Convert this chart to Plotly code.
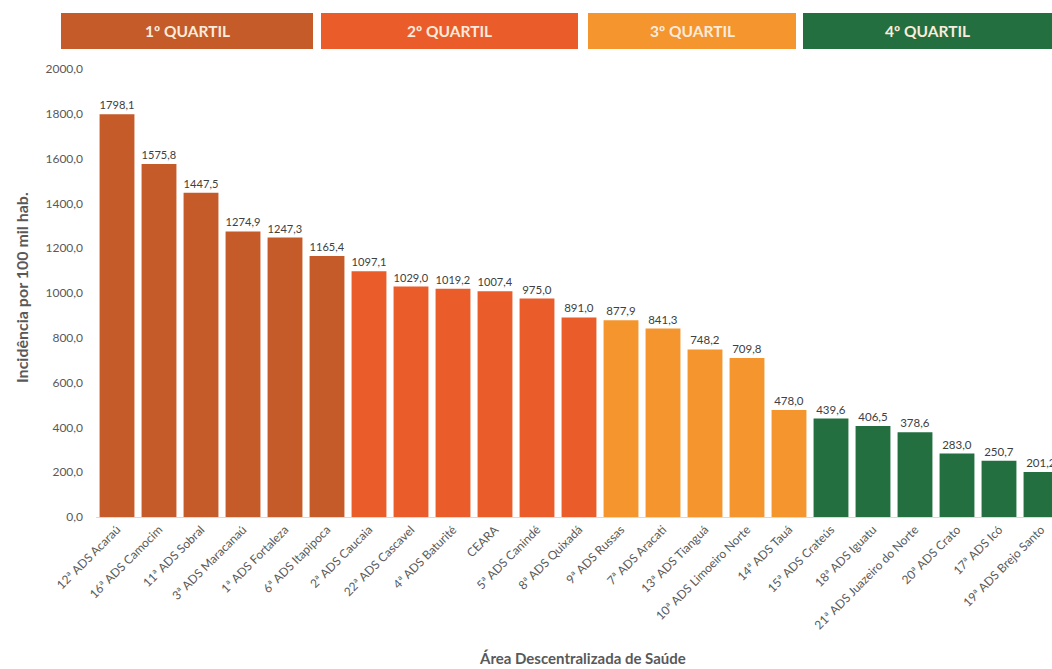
import plotly.graph_objects as go

categories = [
    "12ª ADS Acaraú", "16ª ADS Camocim", "11ª ADS Sobral", "3ª ADS Maracanaú",
    "1ª ADS Fortaleza", "6ª ADS Itapipoca", "2ª ADS Caucaia", "22ª ADS Cascavel",
    "4ª ADS Baturité", "CEARA", "5ª ADS Canindé", "8ª ADS Quixadá",
    "9ª ADS Russas", "7ª ADS Aracati", "13ª ADS Tianguá", "10ª ADS Limoeiro Norte",
    "14ª ADS Tauá", "15ª ADS Crateús", "18ª ADS Iguatu", "21ª ADS Juazeiro do Norte",
    "20ª ADS Crato", "17ª ADS Icó", "19ª ADS Brejo Santo",
]
values = [
    1798.1, 1575.8, 1447.5, 1274.9, 1247.3, 1165.4, 1097.1, 1029.0, 1019.2,
    1007.4, 975.0, 891.0, 877.9, 841.3, 748.2, 709.8, 478.0, 439.6, 406.5,
    378.6, 283.0, 250.7, 201.2,
]
quartile = [1, 1, 1, 1, 1, 1, 2, 2, 2, 2, 2, 2, 3, 3, 3, 3, 3, 4, 4, 4, 4, 4, 4]
quartile_labels = ["1º QUARTIL", "2º QUARTIL", "3º QUARTIL", "4º QUARTIL"]
quartile_colors = ["#C55B29", "#EA5D2B", "#F4952E", "#236F3F"]
yticks = [0, 200, 400, 600, 800, 1000, 1200, 1400, 1600, 1800, 2000]

W, H = 1052, 669
ML, MR, MT, MB = 96, 0, 69, 152
PW, PH = W - ML - MR, H - MT - MB

def px_x(p):
    return (p - ML) / PW

def px_y(p):
    return (H - MB - p) / PH

FONT = "Lato, Open Sans, sans-serif"

bar_colors = [quartile_colors[q - 1] for q in quartile]

fig = go.Figure(go.Bar(
    x=categories,
    y=values,
    marker=dict(color=bar_colors, line=dict(width=0)),
    texttemplate="%{y:.1f}",
    textposition="outside",
    textfont=dict(family=FONT, size=11.5, color="#404040"),
    cliponaxis=True,
    hoverinfo="x+y",
))

# header banners (pixel extents)
header_px = [(61, 313), (321, 578), (588, 796), (803, 1052)]
for (x0, x1), lab, col in zip(header_px, quartile_labels, quartile_colors):
    fig.add_shape(type="rect", xref="paper", yref="paper",
                  x0=px_x(x0), x1=px_x(x1), y0=px_y(49), y1=px_y(13),
                  fillcolor=col, line=dict(width=0), layer="above")
    fig.add_annotation(xref="paper", yref="paper",
                       x=(px_x(x0) + px_x(x1)) / 2, y=(px_y(49) + px_y(13)) / 2,
                       text="<b>" + lab + "</b>", showarrow=False,
                       font=dict(family=FONT, size=15.5, color="#FBEBDD"),
                       xanchor="center", yanchor="middle")

fig.add_annotation(xref="paper", yref="paper", x=px_x(582), y=px_y(658),
                   text="<b>Área Descentralizada de Saúde</b>", showarrow=False,
                   font=dict(family=FONT, size=15, color="#595959"),
                   xanchor="center", yanchor="middle")
fig.add_annotation(xref="paper", yref="paper", x=px_x(21), y=px_y(288),
                   text="<b>Incidência por 100 mil hab.</b>", showarrow=False,
                   textangle=-90,
                   font=dict(family=FONT, size=16, color="#595959"),
                   xanchor="center", yanchor="middle")

n = len(categories)
last_center_px = 117 + (n - 1) * 42
fig.update_layout(
    width=W, height=H,
    margin=dict(l=ML, r=MR, t=MT, b=MB, autoexpand=False),
    paper_bgcolor="white", plot_bgcolor="white",
    separators=",.",
    bargap=0.17,
    showlegend=False,
    font=dict(family=FONT, color="#595959"),
    xaxis=dict(
        range=[-0.5, (n - 1) + (W - last_center_px) / 42],
        tickangle=-45, tickfont=dict(family=FONT, size=12, color="#595959"),
        showgrid=False, showline=True, linecolor="#D9D9D9", linewidth=1,
        ticks="", zeroline=False,
    ),
    yaxis=dict(
        range=[0, 2000], tickvals=yticks, tickformat=".1f",
        tickfont=dict(family=FONT, size=12, color="#595959"),
        showgrid=False, zeroline=False, showline=False, ticks="",
        ticklabelstandoff=12,
    ),
)

fig.write_html(
    "out.html",
    config={"displayModeBar": False},
    post_script="document.body.style.margin='0';document.body.style.overflow='hidden';",
)
